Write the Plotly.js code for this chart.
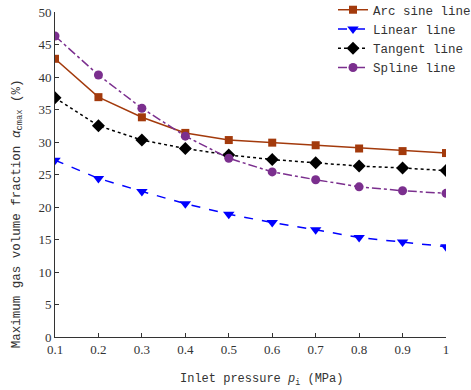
<!DOCTYPE html>
<html>
<head>
<meta charset="utf-8">
<script src="https://cdn.plot.ly/plotly-3.0.1.min.js"></script>
<style>
  html, body { margin: 0; padding: 0; background: #fff; }
  #chart { width: 471px; height: 390px; }
</style>
</head>
<body>
<div id="chart"></div>
<script>
// Inlet pressure (MPa)
const pressure = [0.1, 0.2, 0.3, 0.4, 0.5, 0.6, 0.7, 0.8, 0.9, 1.0];

// Maximum gas volume fraction (%) for each blade profile line
const arcSine = [42.8, 36.9, 33.8, 31.4, 30.3, 29.9, 29.5, 29.0, 28.6, 28.3];
const linear  = [27.2, 24.4, 22.4, 20.5, 18.9, 17.6, 16.5, 15.3, 14.6, 13.9];
const tangent = [36.8, 32.5, 30.3, 29.0, 28.0, 27.3, 26.8, 26.3, 26.0, 25.6];
const spline  = [46.3, 40.3, 35.2, 30.9, 27.5, 25.4, 24.2, 23.1, 22.5, 22.1];

const seriesNames = ['Arc sine line', 'Linear line', 'Tangent line', 'Spline line'];
const xTicks = [0.1, 0.2, 0.3, 0.4, 0.5, 0.6, 0.7, 0.8, 0.9, 1];
const xTickText = ['0.1', '0.2', '0.3', '0.4', '0.5', '0.6', '0.7', '0.8', '0.9', '1'];
const xTitle = 'Inlet pressure <i>p</i><sub>i</sub> (MPa)';
const yTitle = 'Maximum gas volume fraction <i>α</i><sub>cmax</sub> (%)';

const mono = '"Liberation Mono", "Courier New", monospace';
const serif = '"Liberation Serif", "Times New Roman", serif';

const traces = [
  {
    x: pressure, y: arcSine, name: seriesNames[0], mode: 'lines+markers',
    line: { color: '#a33a0c', width: 1.5, dash: 'solid' },
    marker: { symbol: 'square', size: 8, color: '#a33a0c' }
  },
  {
    x: pressure, y: linear, name: seriesNames[1], mode: 'lines+markers',
    line: { color: '#0000ff', width: 1.5, dash: 'dash' },
    marker: { symbol: 'triangle-down', size: 10, color: '#0000ff' }
  },
  {
    x: pressure, y: tangent, name: seriesNames[2], mode: 'lines+markers',
    line: { color: '#000000', width: 1.5, dash: 'dot' },
    marker: { symbol: 'diamond', size: 10, color: '#000000' }
  },
  {
    x: pressure, y: spline, name: seriesNames[3], mode: 'lines+markers',
    line: { color: '#7b2f8e', width: 1.5, dash: 'dashdot' },
    marker: { symbol: 'circle', size: 9, color: '#7b2f8e' }
  }
];

const layout = {
  width: 471,
  height: 390,
  margin: { l: 55, r: 25, t: 12, b: 53, autoexpand: false },
  paper_bgcolor: '#ffffff',
  plot_bgcolor: '#ffffff',
  showlegend: true,
  legend: {
    x: 0.711, y: 1.052, xanchor: 'left', yanchor: 'top',
    bgcolor: 'rgba(0,0,0,0)',
    font: { family: mono, size: 12.5, color: '#333' },
    tracegroupgap: 0,
    itemwidth: 30
  },
  xaxis: {
    range: [0.1, 1.0],
    tickvals: xTicks,
    ticktext: xTickText,
    ticks: 'inside',
    ticklen: 4,
    tickcolor: '#333',
    showline: true,
    linecolor: '#333',
    linewidth: 1,
    showgrid: false,
    zeroline: false,
    tickfont: { family: serif, size: 13, color: '#333' }
  },
  yaxis: {
    range: [0, 50],
    dtick: 5,
    ticks: 'inside',
    ticklen: 4,
    tickcolor: '#333',
    showline: true,
    linecolor: '#333',
    linewidth: 1,
    showgrid: false,
    zeroline: false,
    tickfont: { family: serif, size: 13, color: '#333' }
  },
  annotations: [
    {
      text: xTitle, xref: 'paper', yref: 'paper', x: 0.529, y: -0.132,
      xanchor: 'center', yanchor: 'middle', showarrow: false,
      font: { family: mono, size: 12, color: '#333' }
    },
    {
      text: yTitle, xref: 'paper', yref: 'paper', x: -0.0946, y: 0.378,
      xanchor: 'center', yanchor: 'middle', showarrow: false, textangle: -90,
      font: { family: mono, size: 12.5, color: '#333' }
    }
  ]
};

Plotly.newPlot('chart', traces, layout, { staticPlot: true, displayModeBar: false });
</script>
</body>
</html>
